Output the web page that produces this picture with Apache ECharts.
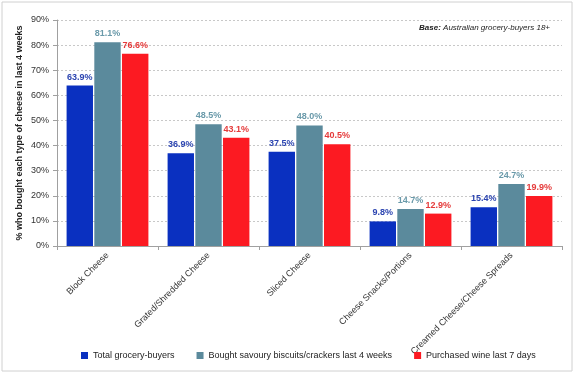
<!DOCTYPE html>
<html>
<head>
<meta charset="utf-8">
<script src="https://cdn.jsdelivr.net/npm/echarts@6/dist/echarts.min.js"></script>
<style>
  html, body { margin: 0; padding: 0; background: #fff; }
  #chart { width: 576px; height: 377px; }
</style>
</head>
<body>
<div id="chart"></div>
<script>
// categories and values
const categories = ['Block Cheese', 'Grated/Shredded Cheese', 'Sliced Cheese', 'Cheese Snacks/Portions', 'Creamed Cheese/Cheese Spreads']
const totalBuyers = [63.9, 36.9, 37.5, 9.8, 15.4]
const biscuitBuyers = [81.1, 48.5, 48.0, 14.7, 24.7]
const wineBuyers = [76.6, 43.1, 40.5, 12.9, 19.9]
const seriesNames = ['Total grocery-buyers', 'Bought savoury biscuits/crackers last 4 weeks', 'Purchased wine last 7 days']

const FONT = '"Liberation Sans Narrow", "Liberation Sans", sans-serif'
const FONT2 = '"Liberation Sans", sans-serif'

const chart = echarts.init(document.getElementById('chart'))

function makeSeries(name, data, color, labelColor) {
  return {
    name: name,
    type: 'bar',
    data: data,
    barGap: '5%',
    barCategoryGap: '19%',
    itemStyle: { color: color },
    label: {
      show: true,
      position: 'top',
      distance: 4,
      formatter: p => p.value.toFixed(1) + '%',
      color: labelColor,
      fontSize: 9,
      fontWeight: 'bold',
      fontFamily: FONT2
    }
  }
}

const option = {
  animation: false,
  graphic: [
    {
      type: 'rect',
      shape: { x: 2, y: 2, width: 570, height: 369 },
      style: { fill: 'none', stroke: '#d0d0d0', lineWidth: 1 }
    },
    {
      type: 'text',
      right: 26,
      top: 24,
      style: {
        text: '{b|Base:} Australian grocery-buyers 18+',
        rich: {
          b: { fontWeight: 'bold', fontStyle: 'italic', fontSize: 8, fill: '#222', fontFamily: FONT2 }
        },
        fontStyle: 'italic',
        fontSize: 8,
        fill: '#222',
        fontFamily: FONT2
      }
    }
  ],
  grid: { left: 57, right: 14, top: 20, bottom: 131 },
  legend: {
    bottom: 12,
    left: 76,
    itemWidth: 7,
    itemHeight: 7,
    itemGap: 22,
    icon: 'rect',
    textStyle: { fontSize: 9, color: '#222', fontFamily: FONT2 },
    data: seriesNames
  },
  xAxis: {
    type: 'category',
    data: categories,
    axisLine: { lineStyle: { color: '#a0a0a0' } },
    axisTick: { show: true, length: 4, lineStyle: { color: '#a0a0a0' } },
    axisLabel: {
      rotate: 45,
      interval: 0,
      fontSize: 9,
      color: '#333',
      margin: 8,
      fontFamily: FONT2
    }
  },
  yAxis: {
    type: 'value',
    min: 0,
    max: 90,
    interval: 10,
    name: '% who bought each type of cheese in last 4 weeks',
    nameLocation: 'middle',
    nameGap: 33,
    nameMoveOverlap: false,
    nameTextStyle: { fontSize: 9, fontWeight: 'bold', color: '#222', fontFamily: FONT },
    axisLine: { show: true, lineStyle: { color: '#a0a0a0' } },
    axisTick: { show: true, length: 4, lineStyle: { color: '#a0a0a0' } },
    axisLabel: { formatter: '{value}%', fontSize: 9, color: '#333', fontFamily: FONT2 },
    splitLine: { lineStyle: { color: '#c8c8c8', type: [2, 2] } }
  },
  series: [
    makeSeries(seriesNames[0], totalBuyers, '#0a30c0', '#2b44b0'),
    makeSeries(seriesNames[1], biscuitBuyers, '#5b8a9c', '#6a9aaa'),
    makeSeries(seriesNames[2], wineBuyers, '#fc1a22', '#e53a3a')
  ]
}

chart.setOption(option)
</script>
</body>
</html>
